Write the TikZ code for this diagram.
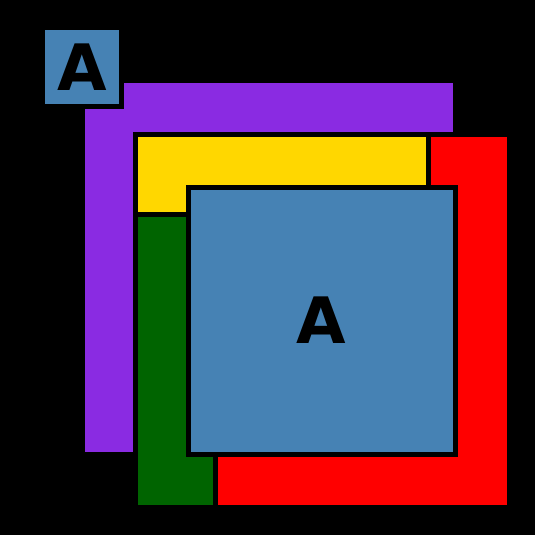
\documentclass[tikz,border=0pt]{standalone}
\usepackage{fontspec}
\setmainfont{DejaVu Sans}
\definecolor{cblue}{HTML}{4682B4}
\definecolor{cpurple}{HTML}{8A2BE2}
\definecolor{cgold}{HTML}{FFD700}
\definecolor{cgreen}{HTML}{006400}
\definecolor{cred}{HTML}{FF0000}
\tikzset{
  panel/.style={draw=black, line width=5.5pt, line join=miter},
  letter/.style={font=\fontsize{64}{64}\selectfont\bfseries, text=black, inner sep=0pt}
}
\begin{document}
\begin{tikzpicture}[x=1pt,y=-1pt]
\fill[black] (0,0) rectangle (535,535);
\useasboundingbox (0,0) rectangle (535,535);
\draw[panel, fill=cpurple] (82.5,80.5) rectangle (455.5,454.5);
\draw[panel, fill=cred] (215.5,134.5) rectangle (509.5,507.5);
\draw[panel, fill=cgreen] (135.5,214.5) rectangle (215.5,507.5);
\draw[panel, fill=cgold] (135.5,134.5) rectangle (428.5,214.5);
\draw[panel, fill=cblue] (188.5,187.5) rectangle (455.5,454.5);
\node[letter] (bigA) at (321.5,320.5) {A};
\draw[panel, fill=cblue] (42.5,27.5) rectangle (121.5,106.5);
\node[letter] (smallA) at (82,67) {A};
\end{tikzpicture}
\end{document}
